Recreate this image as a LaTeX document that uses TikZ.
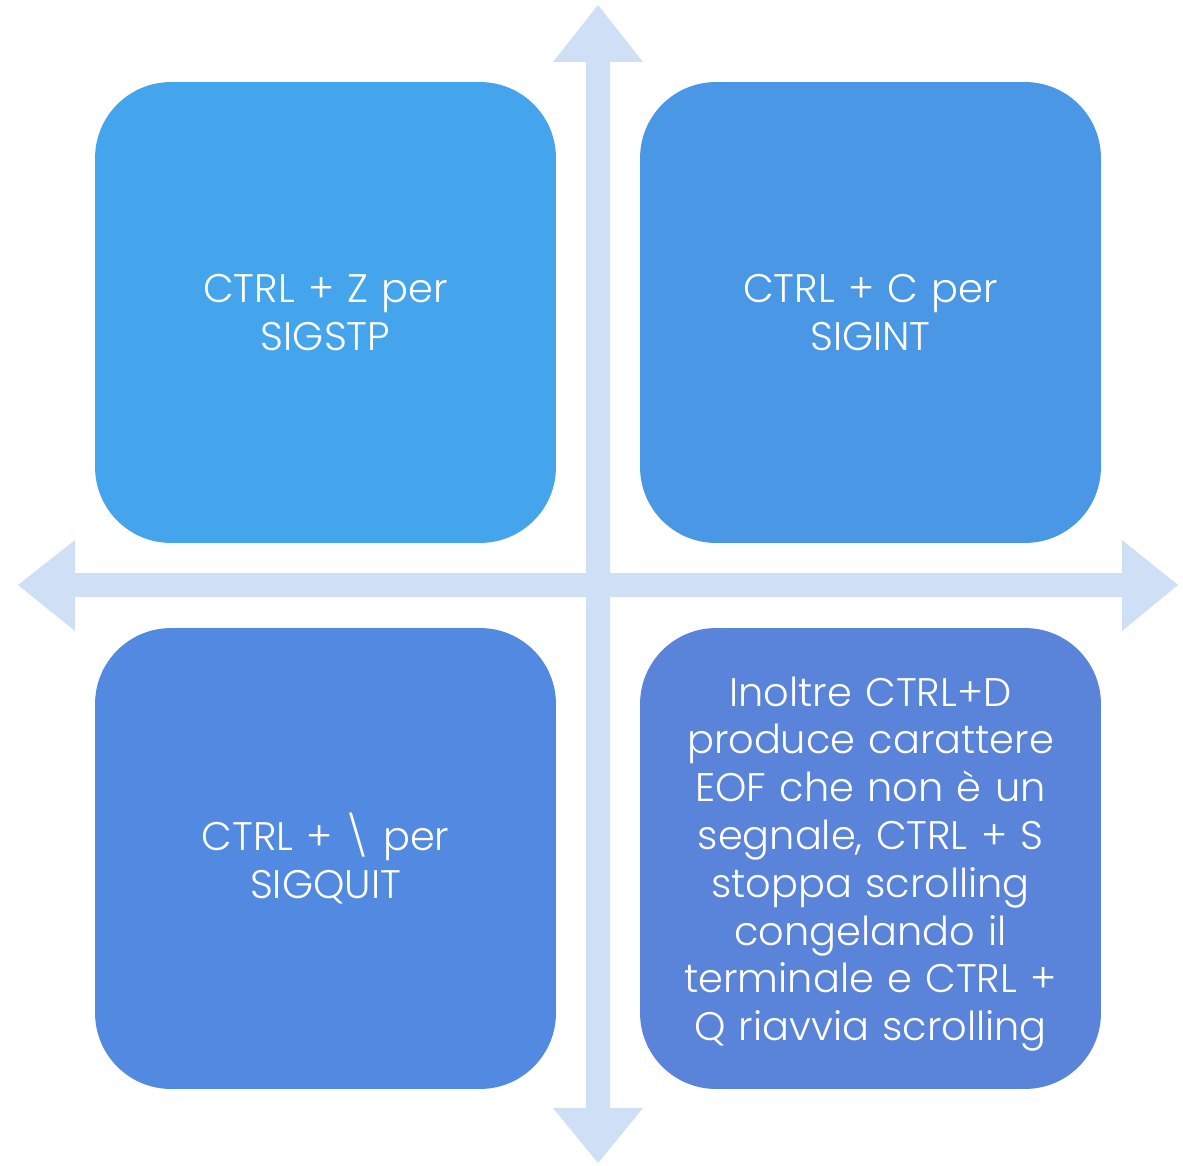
\documentclass[tikz,border=0pt]{standalone}
\usepackage{fontspec}
\setmainfont{Poppins}[UprightFont=* Light]

\definecolor{axisblue}{HTML}{CFE0F6}
\definecolor{quadA}{HTML}{45A5EC}
\definecolor{quadB}{HTML}{4A97E6}
\definecolor{quadC}{HTML}{518AE0}
\definecolor{quadD}{HTML}{5A83DA}

\begin{document}
\begin{tikzpicture}
    [
    x=0.02cm, y=-0.02cm,
    quad/.style={
        rectangle,
        rounded corners=1.52cm,
        minimum width=9.22cm,
        minimum height=9.22cm,
        text width=8.4cm,
        align=center,
        text=white,
        inner sep=0pt,
        font=\fontsize{22.7}{27.2}\selectfont
    },
    axis/.style={fill=axisblue}
    ]
    \useasboundingbox (0,0) rectangle (1183,1166);

% Axes
    \fill[axis] (586,62) -- (553,62) -- (598,5) -- (643,62) -- (610,62)
        -- (610,1108) -- (643,1108) -- (598,1163) -- (553,1108) -- (586,1108) -- cycle;
    \fill[axis] (75,573) -- (75,540) -- (18,585) -- (75,631) -- (75,597)
        -- (1122,597) -- (1122,631) -- (1178,585) -- (1122,540) -- (1122,573) -- cycle;

% Quadrants
    \node[quad, fill=quadA] (ctrlz) at (325.5,312.5) {CTRL + Z per\\SIGSTP};
    \node[quad, fill=quadB] (ctrlc) at (870.5,312.5) {CTRL + C per\\SIGINT};
    \node[quad, fill=quadC] (ctrlq) at (325.5,858.5) {CTRL + \textbackslash{} per\\SIGQUIT};
    % taller strut on the first line pushes this block down a little
    \node[quad, fill=quadD] (ctrld) at (870.5,858.5) {\rule{0pt}{23pt}Inoltre CTRL+D\\produce carattere\\EOF che non è un\\segnale, CTRL + S\\stoppa scrolling\\congelando il\\terminale e CTRL +\\Q riavvia scrolling};

\end{tikzpicture}
\end{document}
